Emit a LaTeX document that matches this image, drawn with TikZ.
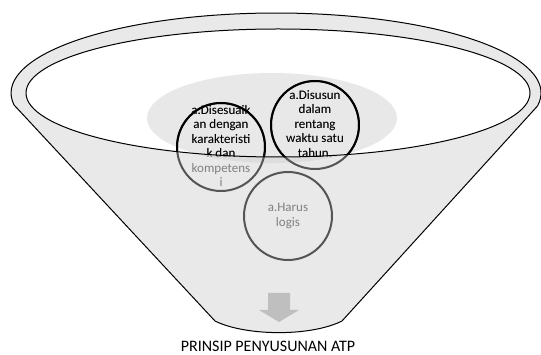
\documentclass[tikz,border=0pt]{standalone}
\usepackage{fontspec}
\setmainfont{Carlito}
\definecolor{bodygray}{HTML}{E9E9E9}
\definecolor{lowgray}{HTML}{DDDDDD}
\definecolor{topgray}{HTML}{E8E8E8}
\definecolor{ringgray}{HTML}{555555}
\definecolor{txtgray}{HTML}{808080}
\definecolor{arrowgray}{HTML}{BFBFBF}
\tikzset{
  ball/.style={circle, line width=2pt, minimum size=88pt, inner sep=0pt},
  balltext/.style={align=center, font=\fontsize{13}{14.5}\selectfont, inner sep=0pt},
  rim/.style={line width=1pt, line join=round},
}
\newcommand\funnelballs[2]{%
  \node[ball, draw=#1] (c1) at (221,147) {};
  \node[ball, draw=#1] (c2) at (315,125) {};
  \node[ball, draw=#1] (c3) at (288,216) {};
  \node[balltext, text=#2] (t1) at (221,146) {a.Disesuaik\\an dengan\\karakteristi\\k dan\\kompetens\\i};
  \node[balltext, text=#2] (t2) at (315,124) {a.Disusun\\dalam\\rentang\\waktu satu\\tahun.};
  \node[balltext, text=#2] (t3) at (c3) {a.Harus\\logis};
}
\begin{document}
\begin{tikzpicture}[x=1pt, y=-1pt]
\useasboundingbox (0,0) rectangle (541,355);
% funnel body with outer rim
\fill[bodygray] (537.5,106) arc[start angle=9.35, end angle=-188.6, x radius=265, y radius=80]
  -- (215,321) .. controls (245,336) and (310,337) .. (342,321) -- cycle;
% back ellipse (seen through funnel)
\fill[lowgray] (272,118) ellipse[x radius=125, y radius=45];
\begin{scope}
  \clip (278,93) ellipse[x radius=252, y radius=64];
  \fill[white] (278,93) ellipse[x radius=252, y radius=64];
  \fill[topgray] (272,118) ellipse[x radius=125, y radius=45];
\end{scope}
% balls seen through the funnel
\funnelballs{ringgray}{txtgray}
% balls inside the opening
\begin{scope}
  \clip (278,93) ellipse[x radius=252, y radius=64];
  \funnelballs{black}{black}
\end{scope}
% outlines
\draw[rim] (537.5,106) arc[start angle=9.35, end angle=-188.6, x radius=265, y radius=80]
  -- (215,321) .. controls (245,336) and (310,337) .. (342,321) -- cycle;
\draw[rim] (278,93) ellipse[x radius=252, y radius=64];
% arrow
\fill[arrowgray] (268,293) -- (290,293) -- (290,310) -- (299,310) -- (279,322) -- (259,310) -- (268,310) -- cycle;
% title
\node[anchor=base, font=\fontsize{16}{18}\selectfont, inner sep=0pt] (title) at (268,351.5) {PRINSIP PENYUSUNAN ATP};
\end{tikzpicture}
\end{document}
